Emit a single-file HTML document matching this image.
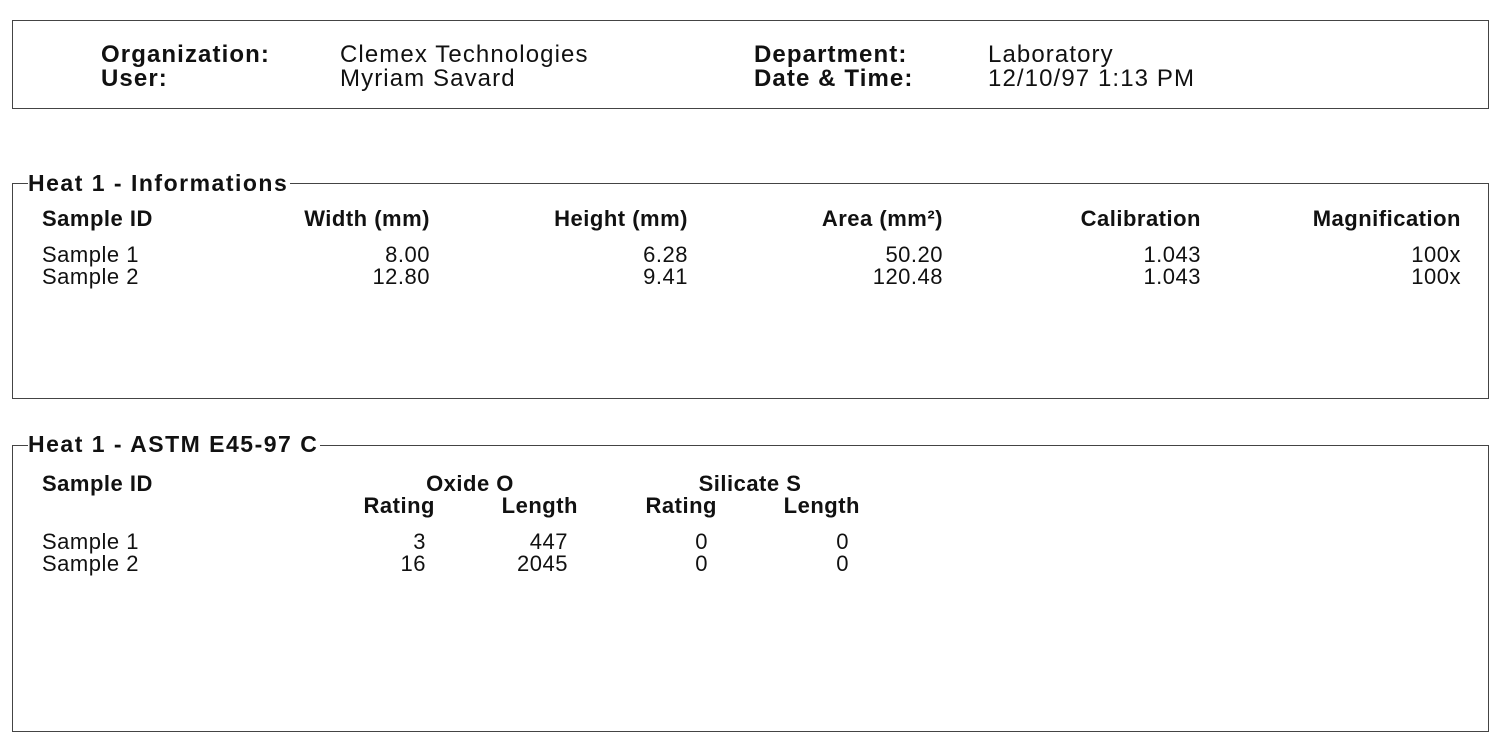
<!DOCTYPE html>
<html><head><meta charset="utf-8"><style>
body{margin:0;width:1502px;height:744px;background:#fff;position:relative;overflow:hidden;font-family:"Liberation Sans",Arial,sans-serif;color:#111}
.box{position:absolute;border:1.5px solid #444;box-sizing:border-box}
.t{position:absolute;white-space:nowrap;line-height:1;font-size:22px;letter-spacing:0.5px}
.b{font-weight:bold}
.r{text-align:right}
.c{text-align:center}
.title{position:absolute;background:#fff;font-weight:bold;font-size:23px;letter-spacing:1.5px;line-height:1;padding-right:2px}
.h{font-size:24px;letter-spacing:1.1px}
</style></head><body>
<div class="box" style="left:12px;top:20px;width:1477px;height:89px"></div>
<div class="t b h" style="left:101px;top:43px">Organization:</div>
<div class="t b h" style="left:101px;top:67px">User:</div>
<div class="t h" style="left:340px;top:43px">Clemex Technologies</div>
<div class="t h" style="left:340px;top:67px">Myriam Savard</div>
<div class="t b h" style="left:754px;top:43px">Department:</div>
<div class="t b h" style="left:754px;top:67px">Date &amp; Time:</div>
<div class="t h" style="left:988px;top:43px">Laboratory</div>
<div class="t h" style="left:988px;top:67px">12/10/97 1:13 PM</div>

<div class="box" style="left:12px;top:183px;width:1477px;height:216px"></div>
<div class="title" style="left:28px;top:172px">Heat 1 - Informations</div>
<div class="t b" style="left:42px;top:208px">Sample ID</div>
<div class="t" style="left:42px;top:244px">Sample 1</div>
<div class="t" style="left:42px;top:266px">Sample 2</div>
<div class="t b r" style="right:1072px;top:208px">Width (mm)</div>
<div class="t r" style="right:1072px;top:244px">8.00</div>
<div class="t r" style="right:1072px;top:266px">12.80</div>
<div class="t b r" style="right:814px;top:208px">Height (mm)</div>
<div class="t r" style="right:814px;top:244px">6.28</div>
<div class="t r" style="right:814px;top:266px">9.41</div>
<div class="t b r" style="right:559px;top:208px">Area (mm²)</div>
<div class="t r" style="right:559px;top:244px">50.20</div>
<div class="t r" style="right:559px;top:266px">120.48</div>
<div class="t b r" style="right:301px;top:208px">Calibration</div>
<div class="t r" style="right:301px;top:244px">1.043</div>
<div class="t r" style="right:301px;top:266px">1.043</div>
<div class="t b r" style="right:41px;top:208px">Magnification</div>
<div class="t r" style="right:41px;top:244px">100x</div>
<div class="t r" style="right:41px;top:266px">100x</div>

<div class="box" style="left:12px;top:445px;width:1477px;height:287px"></div>
<div class="title" style="left:28px;top:433px">Heat 1 - ASTM E45-97 C</div>
<div class="t b" style="left:42px;top:473px">Sample ID</div>
<div class="t" style="left:42px;top:531px">Sample 1</div>
<div class="t" style="left:42px;top:553px">Sample 2</div>
<div class="t b c" style="left:400px;width:140px;top:473px">Oxide O</div>
<div class="t b c" style="left:680px;width:140px;top:473px">Silicate S</div>
<div class="t b r" style="right:1067px;top:495px">Rating</div>
<div class="t b r" style="right:924px;top:495px">Length</div>
<div class="t b r" style="right:785px;top:495px">Rating</div>
<div class="t b r" style="right:642px;top:495px">Length</div>
<div class="t r" style="right:1076px;top:531px">3</div>
<div class="t r" style="right:1076px;top:553px">16</div>
<div class="t r" style="right:934px;top:531px">447</div>
<div class="t r" style="right:934px;top:553px">2045</div>
<div class="t r" style="right:794px;top:531px">0</div>
<div class="t r" style="right:794px;top:553px">0</div>
<div class="t r" style="right:653px;top:531px">0</div>
<div class="t r" style="right:653px;top:553px">0</div>
</body></html>
